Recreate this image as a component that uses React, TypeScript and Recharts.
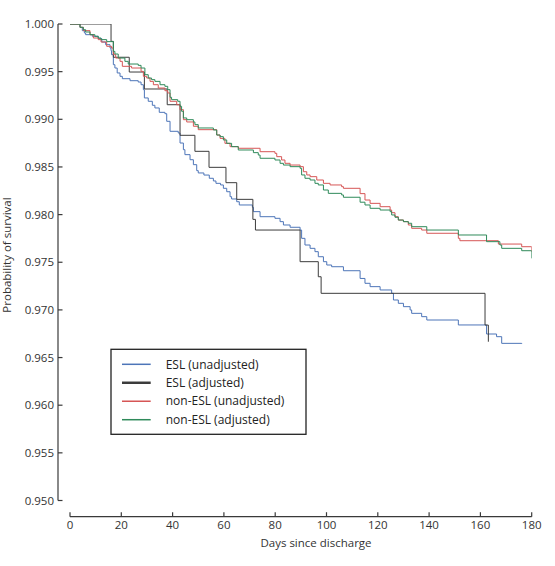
import { LineChart, Line, XAxis, YAxis, ReferenceLine } from 'recharts'

// Kaplan-Meier style survival curves, [day, probability] change points
const eslUnadjusted = [
  [0, 1.0], [3.9, 0.99965], [4.8, 0.9993], [5.6, 0.99906], [6.1, 0.99888], [8.7, 0.99871],
  [11.0, 0.99846], [12.4, 0.99811], [13.9, 0.99783], [15.6, 0.99748], [16.0, 0.9972],
  [16.2, 0.99678], [16.9, 0.99573], [17.5, 0.99538], [18.4, 0.99486], [19.5, 0.99451],
  [20.4, 0.99426], [23.4, 0.99405], [26.6, 0.99391], [27.7, 0.99363], [28.6, 0.99311],
  [29.0, 0.99224], [30.5, 0.99189], [32.1, 0.99147], [33.1, 0.99119], [34.8, 0.99073],
  [37.0, 0.99059], [37.7, 0.98979], [39.0, 0.98874], [42.2, 0.98856], [42.9, 0.98751],
  [44.2, 0.98681], [44.8, 0.98629], [46.8, 0.98576], [48.1, 0.98524], [49.4, 0.98461],
  [50.0, 0.98437], [52.2, 0.98415], [54.3, 0.98381], [55.9, 0.98353], [56.9, 0.98328],
  [58.7, 0.98311], [59.8, 0.98276], [61.1, 0.9824], [62.4, 0.98188], [63.0, 0.98164],
  [65.0, 0.98135], [66.0, 0.98101], [71.1, 0.98077], [71.5, 0.98031], [74.1, 0.97978],
  [79.9, 0.97961], [81.9, 0.97926], [83.2, 0.97891], [85.8, 0.97867], [89.7, 0.97838],
  [90.3, 0.97751], [91.6, 0.97681], [93.6, 0.97646], [95.5, 0.97611], [96.8, 0.97558],
  [98.8, 0.97506], [100.1, 0.97471], [102.0, 0.97453], [106.6, 0.97411], [113.1, 0.9733],
  [115.0, 0.97279], [117.0, 0.97244], [120.9, 0.97209], [125.4, 0.97174], [126.1, 0.97104],
  [128.0, 0.97069], [130.0, 0.97034], [132.6, 0.96999], [133.2, 0.96964], [137.1, 0.96929],
  [139.1, 0.96894], [151.4, 0.96842], [162.4, 0.96747], [166.3, 0.96719], [168.3, 0.96649],
  [176.1, 0.96642],
]

const eslAdjusted = [
  [0, 1.0], [16.0, 0.99818], [16.9, 0.99651], [23.1, 0.99496], [29.0, 0.99318],
  [37.9, 0.99153], [42.9, 0.98832], [48.7, 0.98664], [54.2, 0.98496], [60.8, 0.98335],
  [65.0, 0.9816], [71.3, 0.9795], [72.3, 0.97838], [89.7, 0.97506], [96.8, 0.97348],
  [97.9, 0.97174], [161.8, 0.96841], [163.1, 0.96666],
]

const nonEslUnadjusted = [
  [0, 1.0], [3.9, 0.99965], [5.2, 0.9993], [7.8, 0.99888], [9.1, 0.99853], [11.0, 0.99836],
  [12.1, 0.99811], [14.3, 0.99766], [16.2, 0.99748], [16.9, 0.99678], [17.8, 0.99643],
  [19.5, 0.99608], [20.4, 0.99556], [24.0, 0.99538], [27.7, 0.99503], [28.6, 0.99451],
  [29.9, 0.99433], [31.2, 0.99398], [32.5, 0.99363], [34.4, 0.99328], [37.0, 0.993],
  [38.1, 0.99276], [39.0, 0.99189], [41.6, 0.99153], [42.9, 0.99101], [44.2, 0.98996],
  [45.5, 0.98972], [48.1, 0.98927], [50.0, 0.98891], [57.2, 0.98835], [58.5, 0.988],
  [60.4, 0.98748], [62.4, 0.98713], [65.6, 0.98696], [74.1, 0.9866], [79.9, 0.98643],
  [80.6, 0.98608], [82.5, 0.98573], [83.8, 0.98538], [85.8, 0.9852], [89.7, 0.98503],
  [91.0, 0.9845], [92.3, 0.98416], [93.6, 0.98398], [96.2, 0.98363], [98.8, 0.98328],
  [101.4, 0.98311], [105.9, 0.98293], [106.6, 0.98276], [113.1, 0.9822], [115.0, 0.98153],
  [117.0, 0.98118], [120.9, 0.98083], [124.8, 0.98048], [125.4, 0.9802], [126.7, 0.97978],
  [128.0, 0.97943], [130.0, 0.97926], [131.9, 0.97891], [133.2, 0.97856], [137.1, 0.97838],
  [139.1, 0.97804], [151.4, 0.97751], [152.0, 0.97726], [167.0, 0.97691], [176.1, 0.97663],
  [180, 0.97611],
]

const nonEslAdjusted = [
  [0, 1.0], [3.9, 0.99965], [5.2, 0.9994], [6.1, 0.99916], [7.8, 0.99888], [9.7, 0.99871],
  [11.0, 0.99853], [12.1, 0.99836], [14.3, 0.99815], [16.9, 0.99713], [17.5, 0.99685],
  [18.8, 0.99643], [21.4, 0.99608], [22.7, 0.9958], [26.6, 0.99566], [27.7, 0.99538],
  [29.2, 0.99468], [30.5, 0.99433], [31.8, 0.99416], [33.1, 0.99398], [35.1, 0.99363],
  [37.0, 0.99346], [38.1, 0.99311], [39.0, 0.99231], [39.6, 0.99206], [42.0, 0.99189],
  [42.9, 0.99136], [43.5, 0.99084], [44.2, 0.99014], [45.5, 0.98996], [48.1, 0.98972],
  [48.7, 0.98944], [50.0, 0.98909], [55.9, 0.98888], [57.2, 0.98835], [58.5, 0.98818],
  [59.8, 0.98783], [61.1, 0.98748], [63.0, 0.98713], [65.6, 0.98678], [71.5, 0.9865],
  [73.4, 0.98625], [74.1, 0.98591], [79.9, 0.98573], [81.9, 0.98538], [83.2, 0.9852],
  [85.8, 0.98503], [89.7, 0.98486], [90.3, 0.98416], [91.6, 0.98381], [93.6, 0.98363],
  [95.5, 0.98328], [96.8, 0.98311], [98.8, 0.98258], [100.7, 0.98223], [105.9, 0.98206],
  [106.6, 0.98182], [113.1, 0.9813], [115.0, 0.98101], [117.0, 0.98066], [120.9, 0.98048],
  [124.8, 0.98031], [125.4, 0.97996], [126.7, 0.97972], [128.0, 0.97943], [130.0, 0.97926],
  [131.9, 0.97909], [133.2, 0.97873], [139.1, 0.97838], [151.4, 0.97786], [162.4, 0.97716],
  [167.6, 0.97681], [168.3, 0.97646], [176.1, 0.97621], [180, 0.97541],
]

const xTicks = [0, 20, 40, 60, 80, 100, 120, 140, 160, 180]
const yTicks = [0.95, 0.955, 0.96, 0.965, 0.97, 0.975, 0.98, 0.985, 0.99, 0.995, 1.0]

const X_MIN = -4.68
const Y_MIN = 0.9483

const FONT = '"Open Sans", "DejaVu Sans", sans-serif'
const AXIS = '#3a3a3a'
const TEXT = '#333'

const series = [
  { name: 'ESL (unadjusted)', points: eslUnadjusted, color: '#4d75b8', legendWidth: 1.5 },
  { name: 'ESL (adjusted)', points: eslAdjusted, color: '#3c3c3c', legendWidth: 2.5 },
  { name: 'non-ESL (unadjusted)', points: nonEslUnadjusted, color: '#d65656', legendWidth: 1.5 },
  { name: 'non-ESL (adjusted)', points: nonEslAdjusted, color: '#2f8a5a', legendWidth: 1.5 },
]

const toRows = (pts: number[][]) => pts.map(([d, s]) => ({ d, s }))

const YTick = ({ x, y, payload }: any) => (
  <g>
    <line x1={x} x2={x + 4.5} y1={y} y2={y} stroke={AXIS} strokeWidth={1.2} />
    <text x={x - 4} y={y} dy="0.35em" textAnchor="end" fontSize={11.5} fill={TEXT} fontFamily={FONT}>
      {Number(payload.value).toFixed(3)}
    </text>
  </g>
)

const XTick = ({ x, y, payload }: any) => (
  <g>
    <line x1={x} x2={x} y1={y} y2={y - 4.5} stroke={AXIS} strokeWidth={1.2} />
    <text x={x} y={y + 12.3} textAnchor="middle" fontSize={11.5} fill={TEXT} fontFamily={FONT}>
      {payload.value}
    </text>
  </g>
)

export default function App() {
  return (
    <div style={{ position: 'absolute', left: 0, top: 0 }}>
      <LineChart width={555} height={560} margin={{ top: 24, right: 23.3, bottom: 0, left: 0 }}>
        <XAxis
          type="number"
          dataKey="d"
          domain={[X_MIN, 180]}
          ticks={xTicks}
          axisLine={false}
          tickLine={false}
          tickSize={0}
          tickMargin={0}
          height={43.3}
          tick={<XTick />}
          allowDataOverflow
        />
        <YAxis
          type="number"
          domain={[Y_MIN, 1.0]}
          ticks={yTicks}
          axisLine={false}
          tickLine={false}
          tickSize={0}
          tickMargin={0}
          width={58}
          tick={<YTick />}
          allowDataOverflow
        />
        <ReferenceLine
          segment={[{ x: 0, y: Y_MIN }, { x: 180, y: Y_MIN }]}
          stroke={AXIS}
          strokeWidth={1.2}
          ifOverflow="visible"
        />
        <ReferenceLine
          segment={[{ x: X_MIN, y: 0.95 }, { x: X_MIN, y: 1.0 }]}
          stroke={AXIS}
          strokeWidth={1.2}
          ifOverflow="visible"
        />
        {series.map((s) => (
          <Line
            key={s.name}
            data={toRows(s.points)}
            dataKey="s"
            type="stepAfter"
            stroke={s.color}
            strokeWidth={1}
            dot={false}
            isAnimationActive={false}
          />
        ))}

        {/* legend box drawn in plot */}
        <rect x={111} y={349.3} width={195} height={85} fill="#fff" stroke="#222" strokeWidth={1.3} />
        {series.map((s, i) => (
          <g key={`lg-${s.name}`}>
            <line
              x1={122}
              x2={150.7}
              y1={364.3 + i * 18.47}
              y2={364.3 + i * 18.47}
              stroke={s.color}
              strokeWidth={s.legendWidth}
            />
            <text x={165.7} y={364.3 + i * 18.47} dy="0.35em" fontSize={12} fill="#222" fontFamily={FONT}>
              {s.name}
            </text>
          </g>
        ))}

        <text x={316} y={546.7} textAnchor="middle" fontSize={11.5} fill={TEXT} fontFamily={FONT}>
          Days since discharge
        </text>
        <text
          x={10.5}
          y={255}
          transform="rotate(-90 10.5 255)"
          textAnchor="middle"
          fontSize={11.5}
          fill={TEXT}
          fontFamily={FONT}
        >
          Probability of survival
        </text>
      </LineChart>
    </div>
  )
}
